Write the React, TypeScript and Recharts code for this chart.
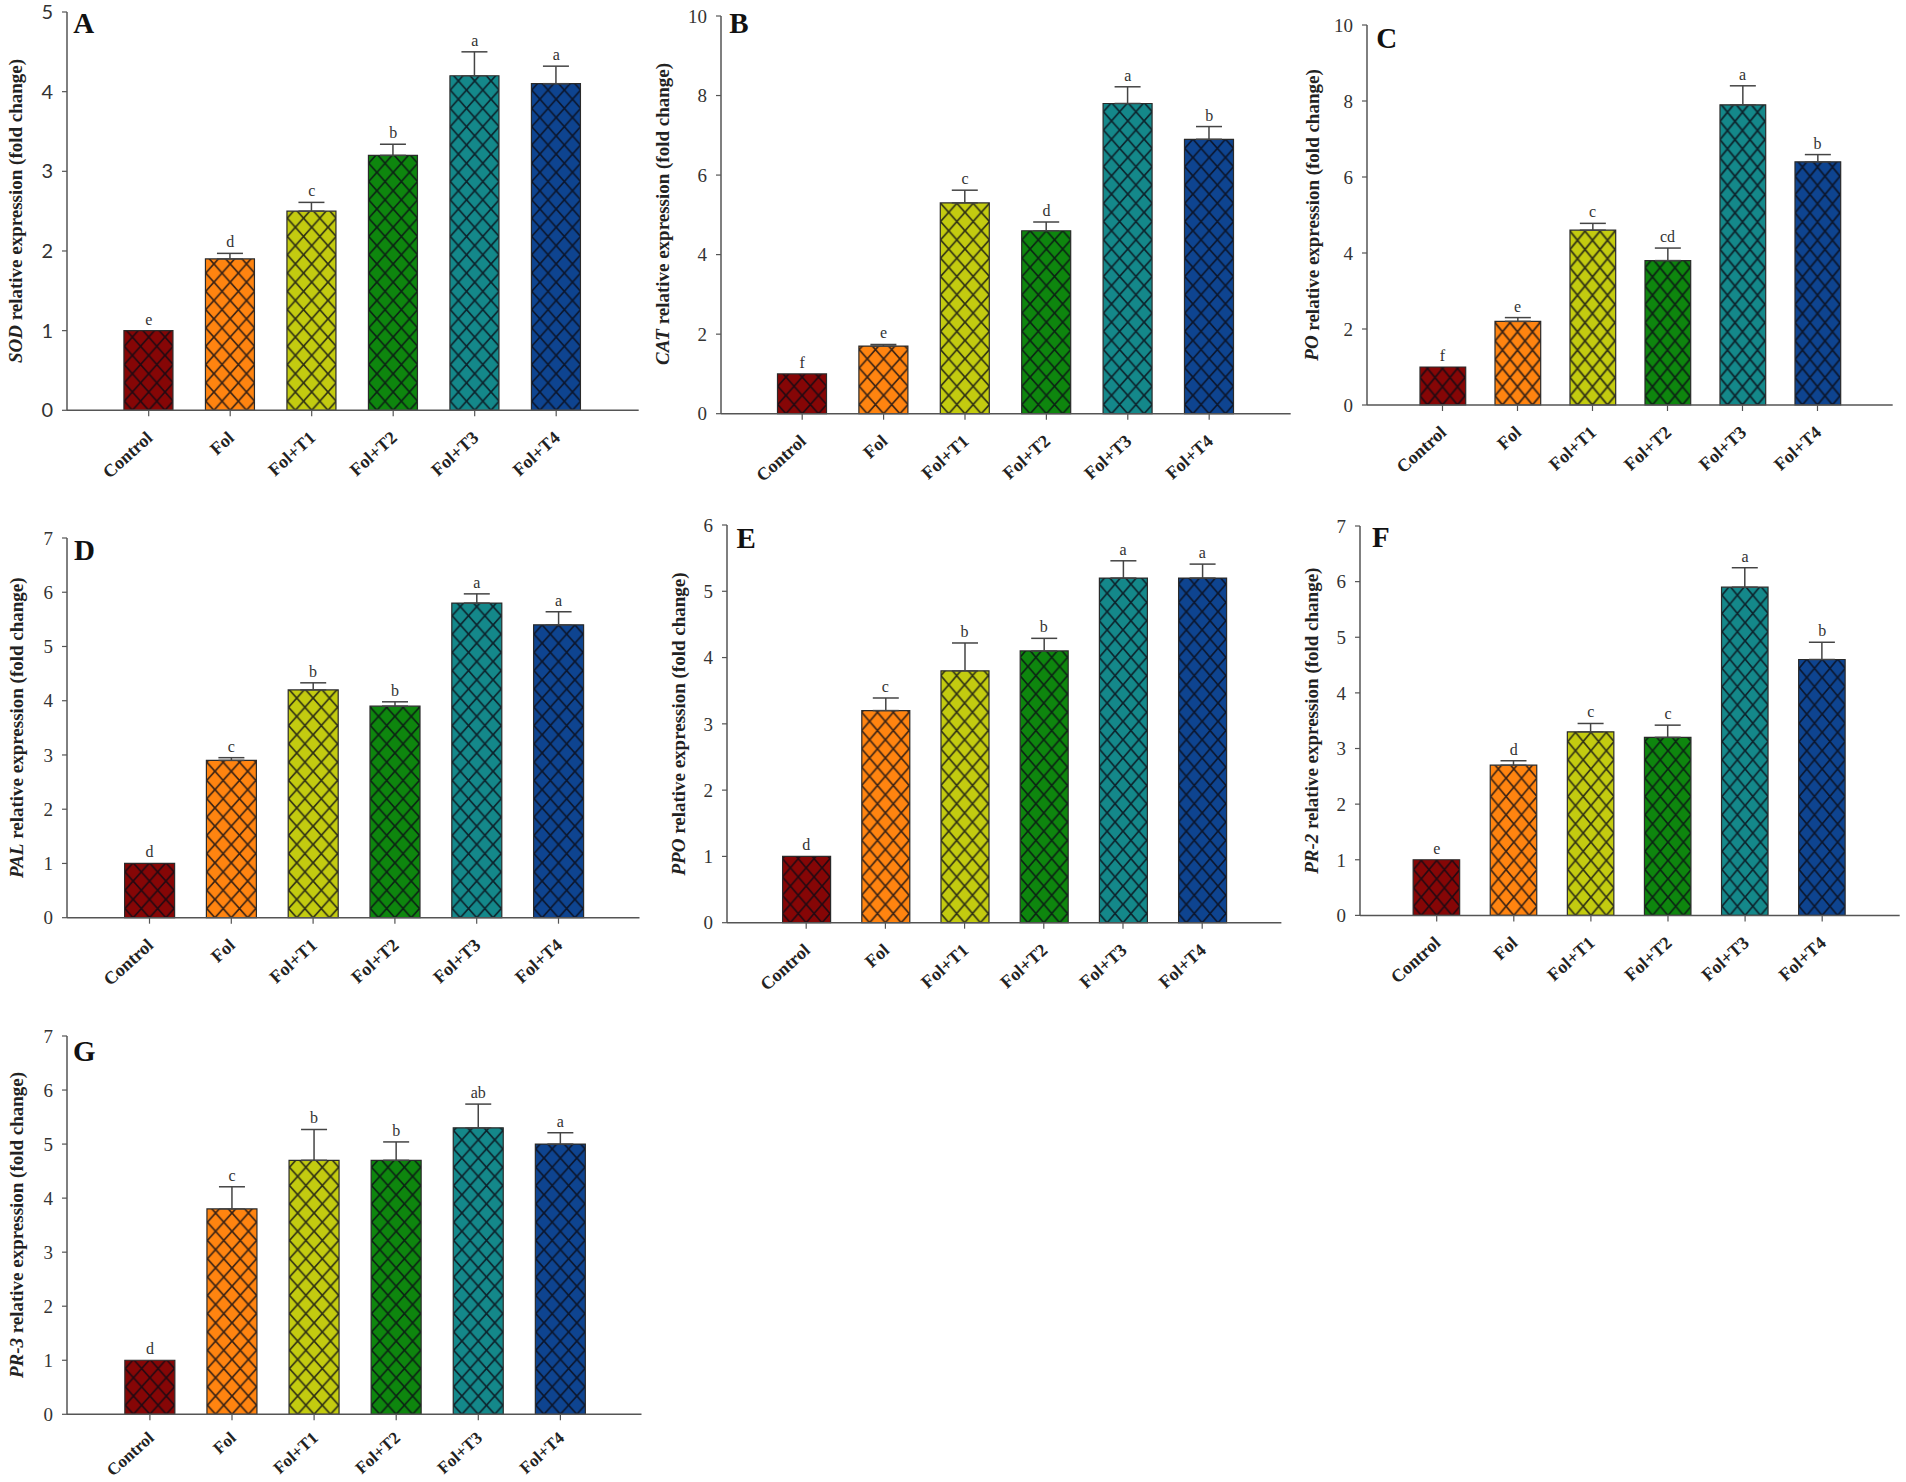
import React from "react";
import { ComposedChart, Bar, Line, Cell, XAxis, YAxis, ErrorBar, LabelList } from "recharts";

const categories = ["Control", "Fol", "Fol+T1", "Fol+T2", "Fol+T3", "Fol+T4"];
const barColors = ["#860606", "#FF8410", "#C3CB10", "#0E860E", "#14888A", "#0E4490"];

const sodValues = [1, 1.9, 2.5, 3.2, 4.2, 4.1];
const sodErrors = [0, 0.07, 0.11, 0.14, 0.3, 0.22];
const sodLetters = ["e", "d", "c", "b", "a", "a"];

const catValues = [1, 1.7, 5.3, 4.6, 7.8, 6.9];
const catErrors = [0, 0.04, 0.32, 0.22, 0.42, 0.32];
const catLetters = ["f", "e", "c", "d", "a", "b"];

const poValues = [1, 2.2, 4.6, 3.8, 7.9, 6.4];
const poErrors = [0, 0.1, 0.18, 0.33, 0.5, 0.19];
const poLetters = ["f", "e", "c", "cd", "a", "b"];

const palValues = [1, 2.9, 4.2, 3.9, 5.8, 5.4];
const palErrors = [0, 0.05, 0.13, 0.08, 0.17, 0.24];
const palLetters = ["d", "c", "b", "b", "a", "a"];

const ppoValues = [1, 3.2, 3.8, 4.1, 5.2, 5.2];
const ppoErrors = [0, 0.19, 0.42, 0.19, 0.26, 0.21];
const ppoLetters = ["d", "c", "b", "b", "a", "a"];

const pr2Values = [1, 2.7, 3.3, 3.2, 5.9, 4.6];
const pr2Errors = [0, 0.08, 0.15, 0.22, 0.35, 0.31];
const pr2Letters = ["e", "d", "c", "c", "a", "b"];

const pr3Values = [1, 3.8, 4.7, 4.7, 5.3, 5.0];
const pr3Errors = [0, 0.41, 0.57, 0.34, 0.44, 0.21];
const pr3Letters = ["d", "c", "b", "b", "ab", "a"];

const ticks5 = [0, 1, 2, 3, 4, 5];
const ticks6 = [0, 1, 2, 3, 4, 5, 6];
const ticks7 = [0, 1, 2, 3, 4, 5, 6, 7];
const ticks10 = [0, 2, 4, 6, 8, 10];

const SERIF = "'Liberation Serif', serif";
const AXIS_COLOR = "#555";
const XAXIS_HEIGHT = 90;
const TOP_PAD = 12;

const panels = [
  { id: "A", gene: "SOD", values: sodValues, errors: sodErrors, letters: sodLetters, ticks: ticks5, axisX: 67.3, axisW: 66, endX: 639, yTop: 12, y0: 410.3, first: 149, band: 81.5, barW: 49, titleX: 18.4, titleY: 211, letterX: 73.5, letterY: 33, tickFont: "Lato", tickSize: 20 },
  { id: "B", gene: "CAT", values: catValues, errors: catErrors, letters: catLetters, ticks: ticks10, axisX: 720.8, axisW: 75, endX: 1290.5, yTop: 16, y0: 413.7, first: 802, band: 81.4, barW: 49, titleX: 664.5, titleY: 214, letterX: 729, letterY: 33 },
  { id: "C", gene: "PO", values: poValues, errors: poErrors, letters: poLetters, ticks: ticks10, axisX: 1366.8, axisW: 70, endX: 1892.5, yTop: 25, y0: 405, first: 1442.3, band: 75, barW: 45.7, titleX: 1314, titleY: 215, letterX: 1376, letterY: 48 },
  { id: "D", gene: "PAL", values: palValues, errors: palErrors, letters: palLetters, ticks: ticks7, axisX: 66.5, axisW: 66, endX: 639, yTop: 538.3, y0: 918, first: 149, band: 81.8, barW: 50, titleX: 18, titleY: 728, letterX: 73.5, letterY: 560.7 },
  { id: "E", gene: "PPO", values: ppoValues, errors: ppoErrors, letters: ppoLetters, ticks: ticks6, axisX: 727.3, axisW: 66, endX: 1281.7, yTop: 525, y0: 922.7, first: 806.5, band: 79.2, barW: 48, titleX: 681, titleY: 724, letterX: 736.7, letterY: 548 },
  { id: "F", gene: "PR-2", values: pr2Values, errors: pr2Errors, letters: pr2Letters, ticks: ticks7, axisX: 1359.9, axisW: 66, endX: 1899.6, yTop: 526.3, y0: 915.7, first: 1436.6, band: 77.1, barW: 46.5, titleX: 1314, titleY: 721, letterX: 1372, letterY: 547.7 },
  { id: "G", gene: "PR-3", values: pr3Values, errors: pr3Errors, letters: pr3Letters, ticks: ticks7, axisX: 66.5, axisW: 66, endX: 641, yTop: 1036, y0: 1414.3, first: 149.4, band: 82.1, barW: 50, titleX: 18, titleY: 1225, letterX: 72.6, letterY: 1060.7, catDy: 17, catSize: 17 },
];

// rotated category labels
function CategoryTick({ x, y, payload, dy = 21, size = 18 }: any) {
  return (
    <text
      transform={`translate(${x + 5},${y + dy}) rotate(-42)`}
      textAnchor="end"
      fontFamily={SERIF}
      fontWeight="bold"
      fontSize={size}
      fill="#222"
    >
      {payload.value}
    </text>
  );
}

function Panel({ p }: { p: any }) {
  const left = p.axisX - p.axisW;
  const top = p.yTop - TOP_PAD;
  const width = p.endX + 6 - left;
  const height = p.y0 + XAXIS_HEIGHT - top;

  const data = categories.map((name, i) => ({
    name,
    value: p.values[i],
    err: p.errors[i] ? [0, p.errors[i]] : null,
    top: p.values[i] + p.errors[i],
    letter: p.letters[i],
  }));

  const last = p.first + p.band * 5;
  const padLeft = p.first - p.band / 2 - p.axisX;
  const padRight = p.endX - last - p.band / 2;
  const hatchW = p.band / 5;
  const hatchH = 18.3;

  return (
    <div style={{ position: "absolute", left, top, width, height }}>
      <ComposedChart
        width={width}
        height={height}
        data={data}
        margin={{ top: TOP_PAD, right: 6, left: 0, bottom: 0 }}
      >
        <defs>
          {barColors.map((color, i) => (
            <pattern
              key={color}
              id={`hatch-${p.id}-${i}`}
              patternUnits="userSpaceOnUse"
              x={p.first - left}
              y={p.y0 - top}
              width={hatchW}
              height={hatchH}
            >
              <rect width={hatchW} height={hatchH} fill={color} />
              <path
                d={`M0 0L${hatchW} ${hatchH}M0 ${hatchH}L${hatchW} 0`}
                stroke="#0a0a14"
                strokeOpacity={0.8}
                strokeWidth={1.7}
                fill="none"
              />
            </pattern>
          ))}
        </defs>
        <XAxis
          dataKey="name"
          interval={0}
          height={XAXIS_HEIGHT}
          padding={{ left: padLeft, right: padRight }}
          axisLine={{ stroke: AXIS_COLOR, strokeWidth: 1.5 }}
          tickLine={{ stroke: AXIS_COLOR, strokeWidth: 1.2 }}
          tickSize={6}
          tick={<CategoryTick dy={p.catDy} size={p.catSize} />}
        />
        <YAxis
          width={p.axisW}
          domain={[p.ticks[0], p.ticks[p.ticks.length - 1]]}
          ticks={p.ticks}
          interval={0}
          axisLine={{ stroke: AXIS_COLOR, strokeWidth: 1.5 }}
          tickLine={{ stroke: AXIS_COLOR, strokeWidth: 1.2 }}
          tickSize={5}
          tickMargin={9}
          tick={{ fill: "#333", fontFamily: p.tickFont || SERIF, fontSize: p.tickSize || 19 }}
        />
        <Bar
          dataKey="value"
          barSize={p.barW}
          stroke="#2a2a2a"
          strokeWidth={1.2}
          isAnimationActive={false}
        >
          {data.map((d, i) => (
            <Cell key={d.name} fill={`url(#hatch-${p.id}-${i})`} />
          ))}
          <ErrorBar
            dataKey="err"
            direction="y"
            width={13}
            stroke="#444"
            strokeWidth={1.5}
            isAnimationActive={false}
          />
        </Bar>
        <Line dataKey="top" stroke="none" dot={false} activeDot={false} isAnimationActive={false}>
          <LabelList
            dataKey="letter"
            position="top"
            offset={6}
            fontFamily={SERIF}
            fontSize={16}
            fill="#333"
          />
        </Line>
        <text
          transform={`translate(${p.titleX - left},${p.titleY - top}) rotate(-90)`}
          textAnchor="middle"
          dominantBaseline="middle"
          fontFamily={SERIF}
          fontWeight="bold"
          fontSize={19}
          fill="#222"
        >
          <tspan fontStyle="italic">{p.gene}</tspan> relative expression (fold change)
        </text>
        <text
          x={p.letterX - left}
          y={p.letterY - top}
          fontFamily={SERIF}
          fontWeight="bold"
          fontSize={29}
          fill="#111"
        >
          {p.id}
        </text>
      </ComposedChart>
    </div>
  );
}

export default function App() {
  return (
    <div style={{ position: "absolute", left: 0, top: 0, width: 1906, height: 1482, background: "#fff", overflow: "hidden" }}>
      {panels.map((p) => (
        <Panel key={p.id} p={p} />
      ))}
    </div>
  );
}
